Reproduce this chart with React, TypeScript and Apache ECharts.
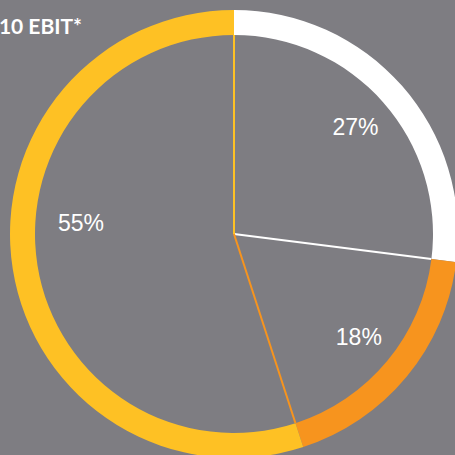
import React, { useEffect, useRef } from "react";
import * as echarts from "echarts";

const categories = ["Segment A", "Segment B", "Segment C"];
const values = [27, 18, 55];
const colors = ["#ffffff", "#f7941e", "#fec124"];
const titleText = "2010 EBIT*";

export default function App() {
  const ref = useRef<HTMLDivElement>(null);
  useEffect(() => {
    if (!ref.current) return;
    const chart = echarts.init(ref.current, null, { renderer: "svg" });
    const total = values.reduce((a, b) => a + b, 0);
    let cum = 0;
    const ends = values.map((v) => {
      cum += v;
      return (cum / total) * 100;
    });
    const center = [234, 234];
    chart.setOption({
      animation: false,
      backgroundColor: "#7e7d82",
      polar: { center, radius: 199 },
      angleAxis: {
        type: "value",
        min: 0,
        max: 100,
        startAngle: 90,
        clockwise: true,
        show: false,
      },
      radiusAxis: { type: "value", min: 0, max: 1, show: false },
      graphic: [
        {
          type: "text",
          x: 82,
          y: 36,
          style: {
            text: titleText,
            fill: "#ffffff",
            font: "bold 21px Lato, 'Open Sans', sans-serif",
            textAlign: "right",
            textVerticalAlign: "bottom",
          },
        },
      ],
      series: [
        ...categories.map((c, i) => ({
          type: "line",
          name: c + " edge",
          coordinateSystem: "polar",
          symbol: "none",
          silent: true,
          lineStyle: { color: colors[i], width: 2 },
          data: [
            [0, ends[i]],
            [1, ends[i]],
          ],
          z: 1,
        })),
        {
          type: "pie",
          name: "ring",
          center,
          radius: [199, 224],
          startAngle: 90,
          clockwise: true,
          silent: true,
          label: { show: false },
          labelLine: { show: false },
          data: categories.map((c, i) => ({
            name: c,
            value: values[i],
            itemStyle: { color: colors[i] },
          })),
          z: 2,
        },
        {
          type: "pie",
          name: "labels",
          center,
          radius: [100, 218],
          startAngle: 90,
          clockwise: true,
          silent: true,
          itemStyle: { color: "rgba(0,0,0,0)" },
          label: {
            show: true,
            position: "inside",
            color: "#ffffff",
            fontSize: 23,
            fontFamily: "'Liberation Sans', Arial, sans-serif",
            formatter: (p: any) => p.value + "%",
          },
          labelLine: { show: false },
          labelLayout: (p: any) =>
            p.dataIndex === 2 ? { dx: 7, dy: -36 } : {},
          data: categories.map((c, i) => ({ name: c, value: values[i] })),
          z: 3,
        },
      ],
    });
    return () => chart.dispose();
  }, []);
  return (
    <div
      ref={ref}
      style={{ position: "fixed", left: 0, top: 0, width: 455, height: 455 }}
    />
  );
}
